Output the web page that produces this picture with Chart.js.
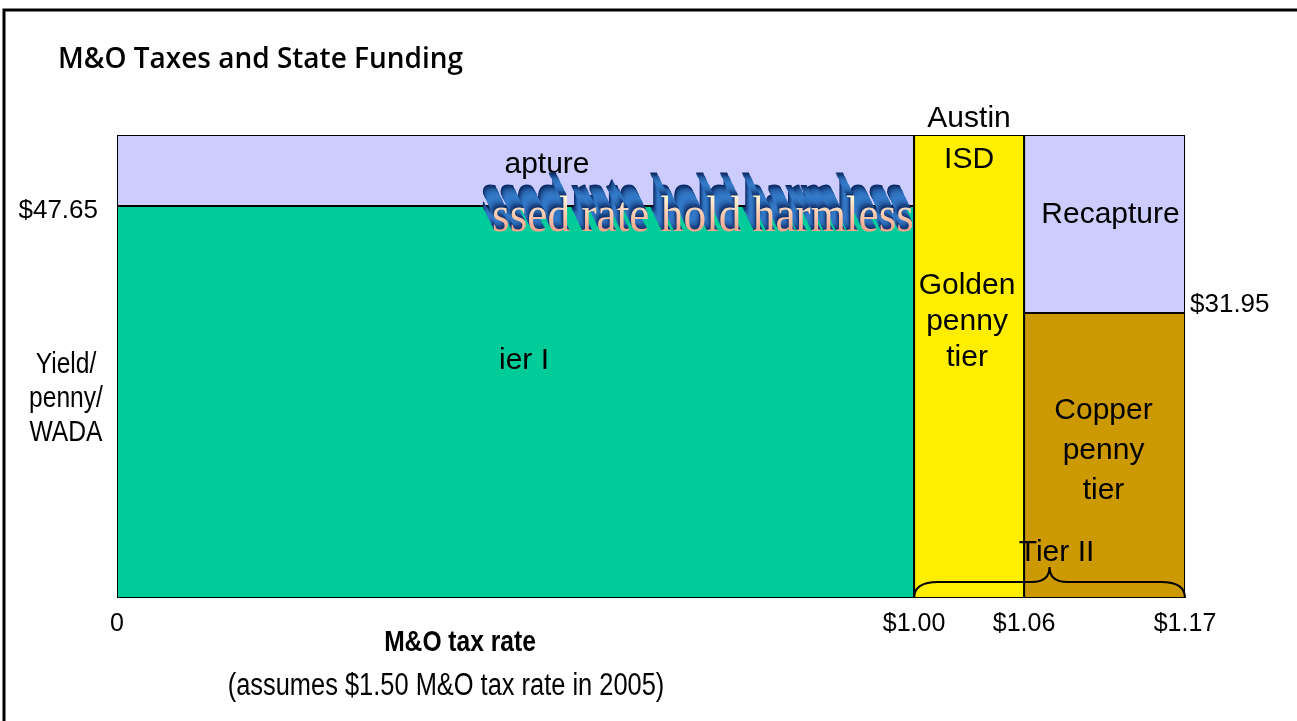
<!DOCTYPE html>
<html>
<head>
<meta charset="utf-8">
<script src="https://cdn.jsdelivr.net/npm/chart.js@4"></script>
<style>
  body { margin: 0; background: #fff; }
  canvas { display: block; }
</style>
</head>
<body>
<canvas id="taxChart" width="1297" height="721"></canvas>
<script>
// tax rate breakpoints on the x axis
const rateTicks = [0, 1.00, 1.06, 1.17];
// yield per penny per WADA
const tierIYield = 47.65;
const copperYield = 31.95;
const yieldTop = 58; // schematic top of the box
const leftYieldTicks = [47.65];
const rightYieldTicks = [31.95];

const titleText = "M&O Taxes and State Funding";
const xTitle = "M&O tax rate";
const xSubtitle = "(assumes $1.50 M&O tax rate in 2005)";
const yTitle = ["Yield/", "penny/", "WADA"];
const goldenLabel = ["Golden", "penny", "tier"];
const copperLabel = ["Copper", "penny", "tier"];
const wordArtText = "ssed rate hold harmless";

// the slide is drawn as a schematic, so each axis is piecewise linear
const pieces = {
    x: { values: rateTicks, stops: [0, 0.7463, 0.8493, 1] },
    y: { values: [0, copperYield, tierIYield, yieldTop], stops: [0, 0.6156, 0.8467, 1] },
};
pieces.y2 = pieces.y;

class PiecewiseScale extends Chart.LinearScale {
    getPixelForValue(value) {
        const p = pieces[this.id];
        const v = p.values, s = p.stops;
        let i = 0;
        while (i < v.length - 2 && value > v[i + 1]) i++;
        const t = (value - v[i]) / (v[i + 1] - v[i]);
        return this.getPixelForDecimal(s[i] + t * (s[i + 1] - s[i]));
    }
    getValueForPixel(pixel) {
        const p = pieces[this.id];
        const v = p.values, s = p.stops;
        const d = this.getDecimalForPixel(pixel);
        let i = 0;
        while (i < s.length - 2 && d > s[i + 1]) i++;
        const t = (d - s[i]) / (s[i + 1] - s[i]);
        return v[i] + t * (v[i + 1] - v[i]);
    }
}
PiecewiseScale.id = "piecewise";
PiecewiseScale.defaults = {};
Chart.register(PiecewiseScale);

function rect(x0, x1, y0, y1) {
    return [
        { x: x0, y: y0 }, { x: x0, y: y1 }, { x: x1, y: y1 },
        { x: x1, y: y0 }, { x: x0, y: y0 },
    ];
}

function block(label, data, color) {
    return {
        label: label,
        data: data,
        backgroundColor: color,
        borderColor: "#000",
        borderWidth: 2,
        pointRadius: 0,
        tension: 0,
        fill: "shape",
    };
}

const SANS = '"Liberation Sans", Arial, sans-serif';

// no narrow font installed, so squeeze the regular one
function narrowText(ctx, text, x, y, font) {
    ctx.save();
    ctx.font = font;
    ctx.translate(x, y);
    ctx.scale(0.82, 1);
    ctx.fillText(text, 0, 0);
    ctx.restore();
}

function drawLines(ctx, lines, x, y0, step) {
    lines.forEach((t, i) => ctx.fillText(t, x, y0 + i * step));
}

const slideText = {
    id: "slideText",
    afterDatasetsDraw(chart) {
        const ctx = chart.ctx;
        const xs = chart.scales.x, ys = chart.scales.y;
        const x0 = xs.getPixelForValue(rateTicks[0]);
        const x1 = xs.getPixelForValue(rateTicks[1]);
        const x2 = xs.getPixelForValue(rateTicks[2]);
        const x3 = xs.getPixelForValue(rateTicks[3]);
        const yb = ys.getPixelForValue(0);
        const yt = ys.getPixelForValue(yieldTop);
        ctx.save();

        // frame of the slide
        ctx.strokeStyle = "#000";
        ctx.lineWidth = 3;
        ctx.beginPath();
        ctx.moveTo(4, 721);
        ctx.lineTo(4, 10);
        ctx.lineTo(1297, 10);
        ctx.stroke();

        ctx.fillStyle = "#000";
        ctx.textBaseline = "alphabetic";

        // title
        ctx.textAlign = "left";
        ctx.font = '600 28px "Open Sans", sans-serif';
        ctx.fillText(titleText, 58, 68, 405);

        ctx.textAlign = "center";
        ctx.font = "30px " + SANS;
        ctx.fillText("apture", 547, 173);
        ctx.fillText("ier I", 524, 369);

        // word art: pink face with blue extrusion
        ctx.save();
        ctx.beginPath();
        ctx.rect(x0, 0, x1 - x0 - 1, 721);
        ctx.clip();
        ctx.textAlign = "left";
        ctx.font = '50px "Liberation Serif", "Times New Roman", serif';
        const wx = 492, wy = 231, ww = 422;
        const steps = 26;
        for (let i = steps; i >= 1; i--) {
            const t = i / steps;
            const k = Math.sin(Math.PI * t);
            const r = Math.round(12 + 40 * k);
            const g = Math.round(42 + 80 * k);
            const b = Math.round(100 + 100 * k);
            ctx.fillStyle = `rgb(${r},${g},${b})`;
            ctx.fillText(wordArtText, wx - 11 * t, wy - 23 * t, ww);
        }
        const grad = ctx.createLinearGradient(0, wy - 34, 0, wy);
        grad.addColorStop(0, "#fff4d6");
        grad.addColorStop(1, "#f4a48c");
        ctx.fillStyle = grad;
        ctx.fillText(wordArtText, wx, wy, ww);
        ctx.restore();

        // labels inside blocks
        ctx.fillStyle = "#000";
        ctx.textAlign = "center";
        ctx.font = "30px " + SANS;
        const gx = (x1 + x2) / 2;
        const cx = (x2 + x3) / 2;
        ctx.fillText("Austin", gx, yt - 8);
        ctx.fillText("ISD", gx, 168);
        drawLines(ctx, goldenLabel, gx - 2, 294, 36);
        ctx.fillText("Recapture", cx + 6, 223);
        drawLines(ctx, copperLabel, cx - 1, 419, 40);
        ctx.fillText("Tier II", (x1 + x3) / 2 + 7, 561);

        // brace under tier II
        const bm = yb - 16, btip = yb - 31, bc = (x1 + x3) / 2;
        ctx.lineWidth = 2;
        ctx.beginPath();
        ctx.moveTo(x1, yb);
        ctx.quadraticCurveTo(x1, bm, x1 + 24, bm);
        ctx.lineTo(bc - 18, bm);
        ctx.quadraticCurveTo(bc, bm, bc, btip);
        ctx.quadraticCurveTo(bc, bm, bc + 18, bm);
        ctx.lineTo(x3 - 24, bm);
        ctx.quadraticCurveTo(x3, bm, x3, yb);
        ctx.stroke();

        // axis titles
        yTitle.forEach((t, i) => narrowText(ctx, t, 66, 373 + i * 34, "30px " + SANS));
        narrowText(ctx, xTitle, 460, 651, "bold 30px " + SANS);
        narrowText(ctx, xSubtitle, 446, 695, "31px " + SANS);

        ctx.restore();
    },
};

new Chart(document.getElementById("taxChart"), {
    type: "line",
    data: {
        datasets: [
            block("Tier I", rect(rateTicks[0], rateTicks[1], 0, tierIYield), "#00cc99"),
            block("Recapture", rect(rateTicks[0], rateTicks[1], tierIYield, yieldTop), "#ccccff"),
            block("Golden penny tier", rect(rateTicks[1], rateTicks[2], 0, yieldTop), "#ffee00"),
            block("Copper penny tier", rect(rateTicks[2], rateTicks[3], 0, copperYield), "#cc9900"),
            block("Recapture", rect(rateTicks[2], rateTicks[3], copperYield, yieldTop), "#ccccff"),
        ],
    },
    options: {
        responsive: false,
        animation: false,
        layout: { padding: { top: 135, left: 0, right: 0, bottom: 0 } },
        plugins: {
            legend: { display: false },
            tooltip: { enabled: false },
        },
        scales: {
            x: {
                type: "piecewise",
                min: rateTicks[0],
                max: rateTicks[rateTicks.length - 1],
                afterBuildTicks: (s) => { s.ticks = rateTicks.map((v) => ({ value: v })); },
                afterFit: (s) => { s.height = 123; },
                grid: { display: false, tickLength: 0 },
                border: { display: false },
                ticks: {
                    autoSkip: false,
                    maxRotation: 0,
                    padding: 11,
                    color: "#000",
                    font: { family: SANS, size: 25 },
                    callback: (v) => (v === 0 ? "0" : "$" + v.toFixed(2)),
                },
            },
            y: {
                type: "piecewise",
                position: "left",
                min: 0,
                max: yieldTop,
                afterBuildTicks: (s) => { s.ticks = leftYieldTicks.map((v) => ({ value: v })); },
                afterFit: (s) => { s.width = 117; },
                grid: { display: false, tickLength: 0 },
                border: { display: false },
                ticks: {
                    padding: 19,
                    labelOffset: 5,
                    color: "#000",
                    font: { family: SANS, size: 26 },
                    callback: (v) => "$" + v.toFixed(2),
                },
            },
            y2: {
                type: "piecewise",
                position: "right",
                min: 0,
                max: yieldTop,
                afterBuildTicks: (s) => { s.ticks = rightYieldTicks.map((v) => ({ value: v })); },
                afterFit: (s) => { s.width = 112; },
                grid: { display: false, tickLength: 0 },
                border: { display: false },
                ticks: {
                    padding: 5,
                    labelOffset: -8,
                    color: "#000",
                    font: { family: SANS, size: 26 },
                    callback: (v) => "$" + v.toFixed(2),
                },
            },
        },
    },
    plugins: [slideText],
});
</script>
</body>
</html>
